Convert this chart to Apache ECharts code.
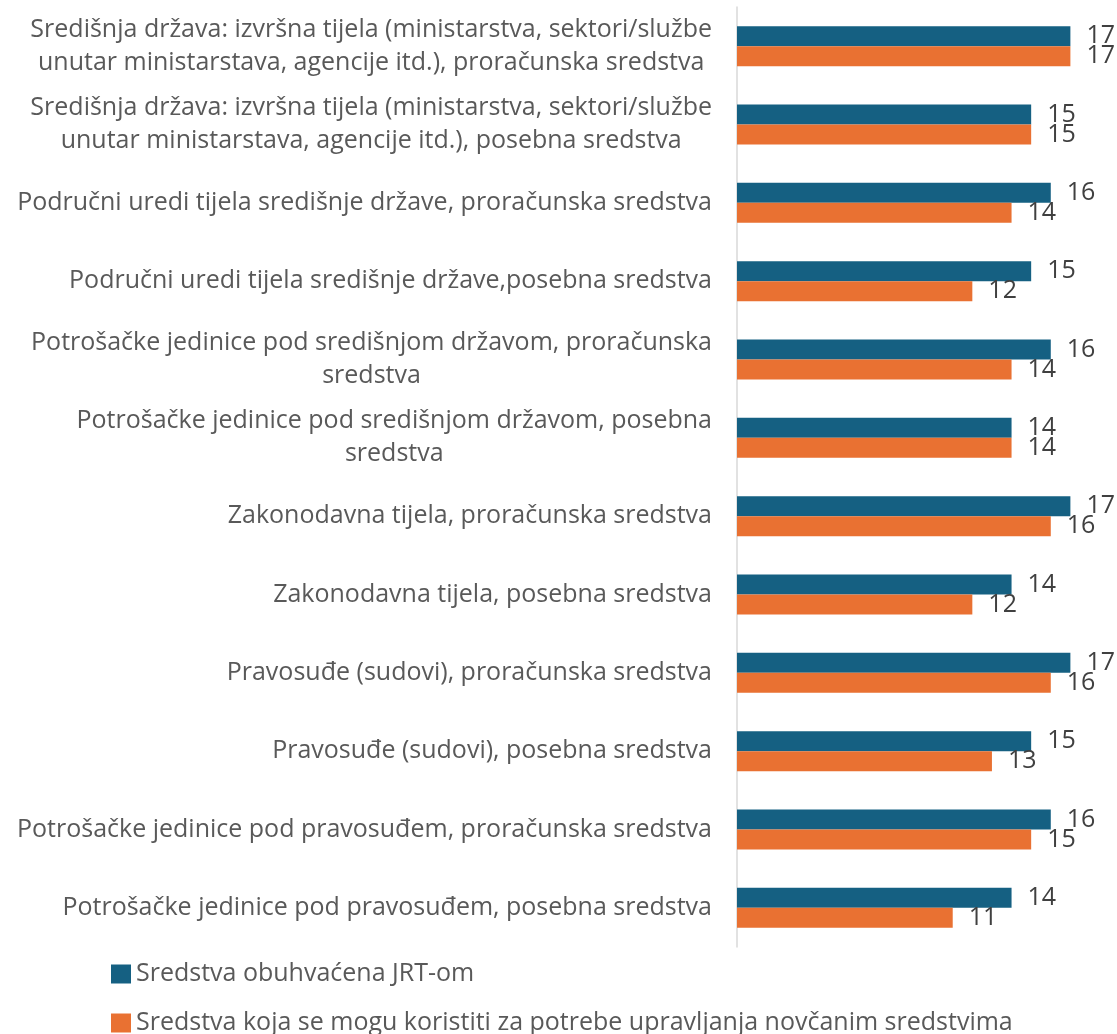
<!DOCTYPE html>
<html>
<head>
<meta charset="utf-8">
<script src="https://cdn.jsdelivr.net/npm/echarts@6/dist/echarts.min.js"></script>
<style>
  html, body { margin: 0; padding: 0; background: #fff; }
  #chart { width: 1117px; height: 1034px; }
</style>
</head>
<body>
<div id="chart"></div>
<script>
// kategorije (odozgo prema dolje)
const categories = [
  'Središnja država: izvršna tijela (ministarstva, sektori/službe\nunutar ministarstava, agencije itd.), proračunska sredstva',
  'Središnja država: izvršna tijela (ministarstva, sektori/službe\nunutar ministarstava, agencije itd.), posebna sredstva',
  'Područni uredi tijela središnje države, proračunska sredstva',
  'Područni uredi tijela središnje države,posebna sredstva',
  'Potrošačke jedinice pod središnjom državom, proračunska\nsredstva',
  'Potrošačke jedinice pod središnjom državom, posebna\nsredstva',
  'Zakonodavna tijela, proračunska sredstva',
  'Zakonodavna tijela, posebna sredstva',
  'Pravosuđe (sudovi), proračunska sredstva',
  'Pravosuđe (sudovi), posebna sredstva',
  'Potrošačke jedinice pod pravosuđem, proračunska sredstva',
  'Potrošačke jedinice pod pravosuđem, posebna sredstva'
]

const seriesNames = [
  'Sredstva obuhvaćena JRT-om',
  'Sredstva koja se mogu koristiti za potrebe upravljanja novčanim sredstvima'
]

const obuhvacena = [17, 15, 16, 15, 16, 14, 17, 14, 17, 15, 16, 14]
const upravljanje = [17, 15, 14, 12, 14, 14, 16, 12, 16, 13, 15, 11]

const FONT = '"Open Sans", Roboto, sans-serif'
const textGrey = '#595959'

const chart = echarts.init(document.getElementById('chart'))

const barLabel = {
  show: true,
  position: 'right',
  distance: 16,
  fontFamily: FONT,
  fontSize: 25,
  color: '#404040'
}

// jedna legenda po stavci, jedna ispod druge
const legendItem = (name, top) => ({
  orient: 'vertical',
  left: 111,
  top: top,
  padding: 0,
  itemWidth: 20,
  itemHeight: 19,
  icon: 'rect',
  data: [name],
  textStyle: {
    fontFamily: FONT,
    fontSize: 25,
    color: textGrey,
    lineHeight: 26,
    padding: [0, 0, 0, 0]
  }
})

const option = {
  animation: false,
  textStyle: { fontFamily: FONT },
  grid: {
    left: 737,
    top: 7,
    width: 353,
    bottom: 87
  },
  legend: [
    legendItem(seriesNames[0], 961),
    legendItem(seriesNames[1], 1008 + 2)
  ],
  xAxis: {
    type: 'value',
    min: 0,
    max: 18,
    show: false,
    splitLine: { show: false }
  },
  yAxis: {
    type: 'category',
    inverse: true,
    data: categories,
    axisLine: { show: true, lineStyle: { color: '#d9d9d9', width: 1.5 } },
    axisTick: { show: false },
    axisLabel: {
      margin: 25,
      align: 'right',
      formatter: v => v.split('\n').map(l => '{c|' + l + '}').join('\n'),
      rich: {
        c: {
          align: 'center',
          fontFamily: FONT,
          fontSize: 25,
          lineHeight: 33,
          color: textGrey
        }
      }
    }
  },
  series: [
    {
      name: seriesNames[0],
      type: 'bar',
      data: obuhvacena,
      barWidth: 20,
      barGap: '0%',
      itemStyle: { color: '#156082' },
      label: barLabel
    },
    {
      name: seriesNames[1],
      type: 'bar',
      data: upravljanje,
      barWidth: 20,
      itemStyle: { color: '#E97132' },
      label: barLabel
    }
  ]
}

chart.setOption(option)
window.addEventListener('resize', () => chart.resize())
</script>
</body>
</html>
